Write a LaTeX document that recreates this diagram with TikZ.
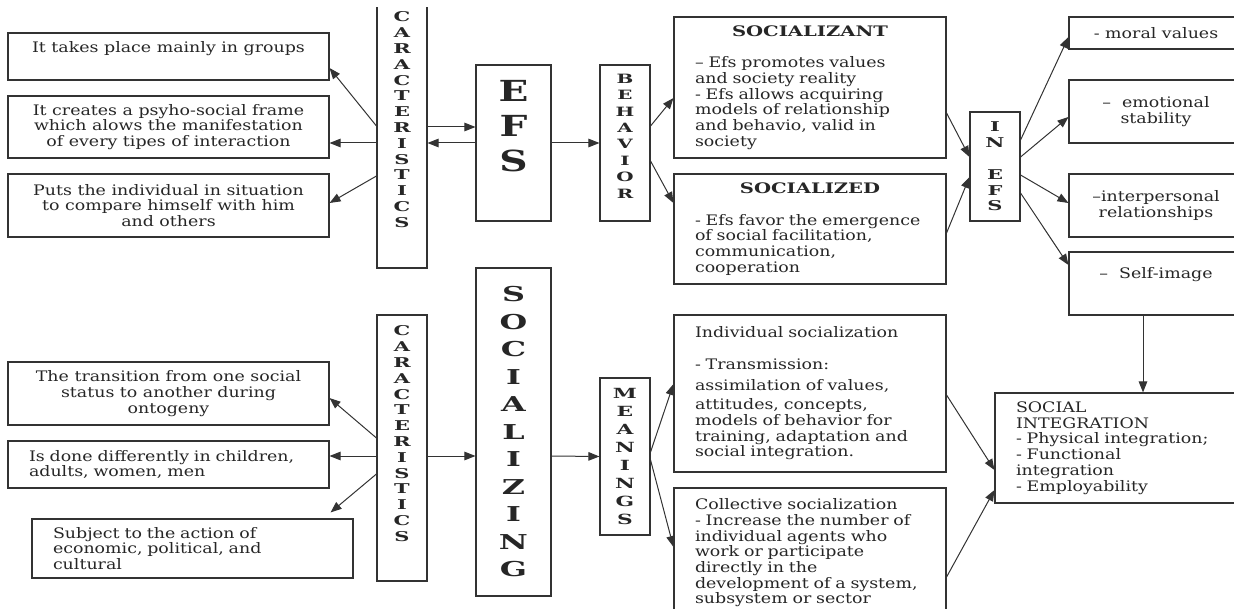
\documentclass[tikz,border=0pt]{standalone}
\usepackage{fontspec}
\setmainfont{DejaVu Serif}[FakeStretch=1.2]
\newfontfamily\headfont{DejaVu Serif}[FakeStretch=1.35]
\newfontfamily\stackfont{DejaVu Serif}[FakeStretch=1.55]
\usetikzlibrary{arrows.meta}

\begin{document}
\begin{tikzpicture}[x=1pt, y=-1pt,
  box/.style={draw=black!80, line width=1.1pt, inner ysep=0pt, text=black!85, font=\fontsize{14.5}{15.7}\selectfont},
  cbox/.style={box, align=center, inner xsep=0pt},
  lbox/.style={box, align=left, inner xsep=21pt, text width=#1},
  stack/.style args={#1/#2}{box, inner xsep=0pt, align=center, font=\stackfont\bfseries\fontsize{#1}{#2}\selectfont},
  link/.style={draw=black!80, line width=1pt, -{Triangle[length=11pt, width=8.5pt]}}]
\useasboundingbox (0,0) rectangle (1234,609);
\clip (0,8) rectangle (1234,609);
% upper half
\node[cbox, minimum width=321pt, minimum height=47pt, text depth=18.4pt] (take) at (168.5,56.5) {It takes place mainly in groups};
\node[cbox, minimum width=321pt, minimum height=62pt] (frame) at (168.5,127) {It creates a psyho-social frame\\ which alows the manifestation\\ of every tipes of interaction};
\node[cbox, minimum width=321pt, minimum height=63pt] (puts) at (168.5,205.5) {Puts the individual in situation\\ to compare himself with him\\ and others};
\node[stack=13.5/15.8, minimum width=50pt, minimum height=268pt, text depth=29pt] (char1) at (402,134) {C\\A\\R\\A\\C\\T\\E\\R\\I\\S\\T\\I\\C\\S};
\node[stack=29/35.3, font=\headfont\bfseries\fontsize{29}{35.3}\selectfont, minimum width=75pt, minimum height=156pt, text depth=34pt] (efs) at (513.5,143) {E\\F\\S};
\node[stack=12.8/16.4, minimum width=50pt, minimum height=156pt, text depth=14pt] (behav) at (625,143) {B\\E\\H\\A\\V\\I\\O\\R};
\node[lbox=230pt, minimum height=141pt] (sant) at (810,87.5) {\makebox[\linewidth]{\headfont\bfseries SOCIALIZANT}\\[16pt] – Efs promotes values\\ and society reality\\ - Efs allows acquiring\\ models of relationship\\ and behavio, valid in\\ society};
\node[lbox=230pt, minimum height=110pt] (sized) at (810,229) {\makebox[\linewidth]{\headfont\bfseries SOCIALIZED}\\[16pt] - Efs favor the emergence\\ of social facilitation,\\ communication,\\ cooperation};
\node[stack=13.5/15.8, minimum width=50pt, minimum height=109pt] (inefs) at (995,166.5) {I\\N\\[15.8pt]E\\F\\S};
\node[cbox, minimum width=174pt, minimum height=32pt] (moral) at (1156,33) {- moral values};
\node[cbox, minimum width=174pt, minimum height=63pt] (emot) at (1156,111.5) {–\ \ emotional\\ stability};
\node[cbox, minimum width=174pt, minimum height=63pt] (inter) at (1156,205.5) {–interpersonal\\ relationships};
\node[cbox, minimum width=174pt, minimum height=63pt, text depth=20.4pt] (self) at (1156,283.5) {–\ \ Self-image};
% lower half
\node[cbox, minimum width=321pt, minimum height=63pt] (trans) at (168.5,393.5) {The transition from one social\\ status to another during\\ ontogeny};
\node[lbox=279pt, minimum height=47pt] (diff) at (168.5,464.5) {Is done differently in children,\\ adults, women, men};
\node[lbox=279pt, minimum height=59pt] (subj) at (192.5,548.5) {Subject to the action of\\ economic, political, and\\ cultural};
\node[stack=13.5/15.8, minimum width=50pt, minimum height=266pt, text depth=29pt] (char2) at (402,448) {C\\A\\R\\A\\C\\T\\E\\R\\I\\S\\T\\I\\C\\S};
\node[stack=20.5/27.5, minimum width=75pt, minimum height=328pt] (soc) at (513.5,432) {S\\O\\C\\I\\A\\L\\I\\Z\\I\\N\\G};
\node[stack=14/17.9, minimum width=50pt, minimum height=157pt] (mean) at (625,456.5) {M\\E\\A\\N\\I\\N\\G\\S};
\node[lbox=230pt, minimum height=157pt] (indiv) at (810,393.5) {Individual socialization\\[15.7pt] - Transmission:\\[5pt] assimilation of values,\\[4pt] attitudes, concepts,\\ models of behavior for\\ training, adaptation and\\ social integration.};
\node[lbox=230pt, minimum height=130pt] (coll) at (810,553) {Collective socialization\\ - Increase the number of\\ individual agents who\\ work or participate\\ directly in the\\ development of a system,\\ subsystem or sector};
\node[lbox=206pt, minimum height=110pt] (integ) at (1119,448) {SOCIAL\\ INTEGRATION\\ - Physical integration;\\ - Functional\\ integration\\ - Employability};

\draw[link] ([yshift=8pt]char1.west) -- ([yshift=-11.5pt]take.east);
\draw[link] ([yshift=-9pt]char1.west) -- ([yshift=-16pt]frame.east);
\draw[link] ([yshift=-42pt]char1.west) -- ([yshift=2.5pt]puts.east);
\draw[link] ([yshift=7pt]char1.east) -- ([yshift=16pt]efs.west);
\draw[link] (efs.west) -- ([yshift=-9pt]char1.east);
\draw[link] (efs.east) -- (behav.west);
\draw[link] ([yshift=17pt]behav.east) -- ([yshift=-10.5pt]sant.west);
\draw[link] ([yshift=-18pt]behav.east) -- ([yshift=26pt]sized.west);
\draw[link] ([yshift=-25.5pt]sant.east) -- ([yshift=9.5pt]inefs.west);
\draw[link] ([yshift=-4pt]sized.east) -- ([yshift=-10.5pt]inefs.west);
\draw[link] ([yshift=26.5pt]inefs.east) -- ([yshift=-4pt]moral.west);
\draw[link] ([yshift=9.5pt]inefs.east) -- ([yshift=-5.5pt]emot.west);
\draw[link] ([yshift=-8.5pt]inefs.east) -- ([yshift=2.5pt]inter.west);
\draw[link] ([yshift=-26.5pt]inefs.east) -- ([yshift=18.5pt]self.west);
\draw[link] ([xshift=-13pt]self.south) -- ([xshift=-13pt]self.south |- integ.north);
\draw[link] ([yshift=10pt]char2.west) -- ([yshift=-4.5pt]trans.east);
\draw[link] ([yshift=-8pt]char2.west) -- ([yshift=8.5pt]diff.east);
\draw[link] ([yshift=-26pt]char2.west) -- ([xshift=-23pt, yshift=6pt]subj.north east);
\draw[link] ([yshift=-8pt]char2.east) -- ([yshift=-24pt]soc.west);
\draw[link] ([yshift=-24pt]soc.east) -- (mean.west);
\draw[link] ([yshift=4.5pt]mean.east) -- ([yshift=9.5pt]indiv.west);
\draw[link] ([yshift=-3.5pt]mean.east) -- ([yshift=6pt]coll.west);
\draw[link] ([yshift=-1.5pt]indiv.east) -- ([yshift=-22pt]integ.west);
\draw[link] ([yshift=-24pt]coll.east) -- ([yshift=-42pt]integ.west);
\end{tikzpicture}
\end{document}
